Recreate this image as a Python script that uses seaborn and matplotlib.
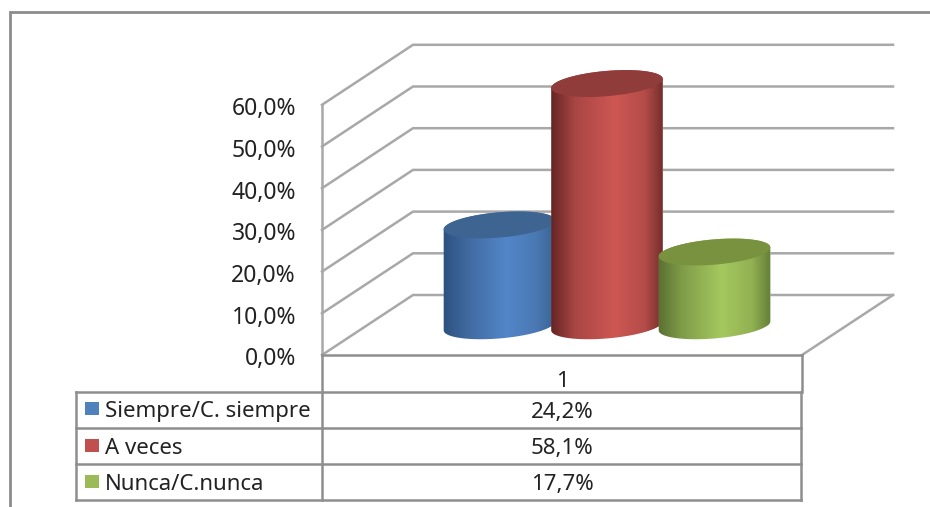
import numpy as np
import pandas as pd
import seaborn as sns
import matplotlib.pyplot as plt
from matplotlib.colors import LinearSegmentedColormap
from matplotlib.patches import Polygon, Rectangle

# values of the chart
series = ['Siempre/C. siempre', 'A veces', 'Nunca/C.nunca']
values = [24.2, 58.1, 17.7]
value_labels = ['24,2%', '58,1%', '17,7%']
category_label = '1'
ticks = [0, 10, 20, 30, 40, 50, 60]
tick_labels = ['0,0%', '10,0%', '20,0%', '30,0%', '40,0%', '50,0%', '60,0%']

# colours: legend, top of cylinder, gradient of the side
legend_colors = ['#4F81BD', '#C0504D', '#9BBB59']
top_colors = ['#3E6491', '#8F3C3A', '#78923F']
side_colors = [
    ['#2A4F7C', '#41699F', '#5286C9', '#4A78B2', '#36608F'],
    ['#5F2321', '#A84644', '#CE5753', '#B44C49', '#6B2927'],
    ['#566B2F', '#7F9C49', '#A5C85F', '#92B153', '#5F7935'],
]

# scale of the picture in pixels
W, H = 930, 507
PX_PER_CAT = 107.5
PX_PER_PCT = 4.17
FIRST_X = 499.5
BASE_Y = 325.8
GRID = '#A8A8A8'
TABLE = '#8E8E8E'
FONT = 'Noto Sans'

sns.set_theme(style='white')
plt.rcParams['font.family'] = FONT

fig = plt.figure(figsize=(W / 100, H / 100), dpi=100)
ax = fig.add_axes([0, 0, 1, 1])

df = pd.DataFrame({'serie': series, 'valor': values})
sns.barplot(data=df, x='serie', y='valor', order=series, hue='serie',
            palette=legend_colors, legend=False, width=1.03, saturation=1, ax=ax, zorder=2)

ax.set_xlim(-FIRST_X / PX_PER_CAT, (W - FIRST_X) / PX_PER_CAT)
ax.set_ylim((BASE_Y - H) / PX_PER_PCT, BASE_Y / PX_PER_PCT)
ax.axis('off')


def xd(px):
    return (px - FIRST_X) / PX_PER_CAT


def yd(py):
    return (BASE_Y - py) / PX_PER_PCT


def line(xs, ys, color=GRID, lw=1.8, z=1):
    ax.plot([xd(x) for x in xs], [yd(y) for y in ys], color=color, lw=lw, zorder=z,
            solid_capstyle='projecting', solid_joinstyle='miter')


def label(px, py, s, ha='center', size=16):
    ax.text(xd(px), yd(py), s, ha=ha, va='center_baseline', fontsize=size, color='#222222', zorder=10)


# outer frame of the picture
line([10, 10, W], [H, 12, 12], color='#8C8C8C', lw=2)

# walls and floor of the 3d box
FRONT_X, BACK_X, RIGHT_FRONT, RIGHT_BACK = 322, 413, 802, 893
FRONT_0, BACK_0 = 355, 295
for t, lab in zip(ticks, tick_labels):
    dy = t * PX_PER_PCT
    line([FRONT_X, BACK_X, RIGHT_BACK], [FRONT_0 - dy, BACK_0 - dy, BACK_0 - dy])
    label(296, FRONT_0 - dy + 1.5, lab, ha='right', size=16.5)
line([FRONT_X, FRONT_X], [FRONT_0, FRONT_0 - ticks[-1] * PX_PER_PCT])
line([RIGHT_BACK, RIGHT_FRONT], [BACK_0, FRONT_0])
line([FRONT_X, RIGHT_FRONT], [FRONT_0, FRONT_0], color=TABLE)

# cylinders, built on the bars seaborn has drawn
A, B, TILT = 56.0, 12.6, np.deg2rad(4.9)


def ellipse_offsets(t):
    ex = A * np.cos(t) * np.cos(TILT) - B * np.sin(t) * np.sin(TILT)
    ey = A * np.cos(t) * np.sin(TILT) + B * np.sin(t) * np.cos(TILT)
    return ex / PX_PER_CAT, ey / PX_PER_PCT


t_right = np.arctan2(-B * np.sin(TILT), A * np.cos(TILT))
lower = np.linspace(t_right + np.pi, t_right + 2 * np.pi, 60)
upper = np.linspace(t_right, t_right + np.pi, 60)
full = np.linspace(0, 2 * np.pi, 120)

for i, bar in enumerate(ax.patches):
    cx = bar.get_x() + bar.get_width() / 2
    h = bar.get_height()
    z = 3 + i
    lx, ly = ellipse_offsets(lower)
    ux, uy = ellipse_offsets(upper)
    body = np.vstack([np.column_stack([cx + lx, ly]),
                      np.column_stack([cx + ux, h + uy])])
    clip = Polygon(body, transform=ax.transData, facecolor='none', edgecolor='none')
    bar.set_clip_path(clip)
    bar.set_zorder(z)
    cmap = LinearSegmentedColormap.from_list('side', list(zip([0, 0.22, 0.56, 0.82, 1], side_colors[i])))
    x0, x1 = cx - 0.54, cx + 0.54
    img = ax.imshow(np.linspace(0, 1, 256).reshape(1, -1), cmap=cmap, aspect='auto',
                    extent=(x0, x1, -4, h + 4), zorder=z + 0.1, interpolation='bilinear')
    img.set_clip_path(clip)
    fx, fy = ellipse_offsets(full)
    ax.add_patch(Polygon(np.column_stack([cx + fx, h + fy]), facecolor=top_colors[i],
                         edgecolor='none', zorder=z + 0.2))

ax.set_xlim(-FIRST_X / PX_PER_CAT, (W - FIRST_X) / PX_PER_CAT)
ax.set_ylim((BASE_Y - H) / PX_PER_PCT, BASE_Y / PX_PER_PCT)

# data table under the chart
T_LEFT, T_DIV, T_RIGHT = 76, 322, 801
ROWS = [392, 428, 464, 500]
line([FRONT_X, FRONT_X], [FRONT_0, ROWS[-1]], color=TABLE)
line([RIGHT_FRONT, RIGHT_FRONT], [FRONT_0, ROWS[0]], color=TABLE)
line([T_RIGHT, T_RIGHT], [ROWS[0], ROWS[-1]], color=TABLE)
line([T_LEFT, T_LEFT], [ROWS[0], ROWS[-1]], color=TABLE)
for r in ROWS:
    line([T_LEFT, T_RIGHT], [r, r], color=TABLE)
label(562, 379, category_label)
for i, name in enumerate(series):
    mid = (ROWS[i] + ROWS[i + 1]) / 2
    ax.add_patch(Rectangle((xd(85), yd(mid + 5.5)), 13.5 / PX_PER_CAT, 13 / PX_PER_PCT,
                           facecolor=legend_colors[i], edgecolor='none', zorder=5))
    label(105, mid - 0.5, name, ha='left', size=16)
    label(562, mid, value_labels[i])

fig.savefig('out.png', dpi=100, facecolor='white')
